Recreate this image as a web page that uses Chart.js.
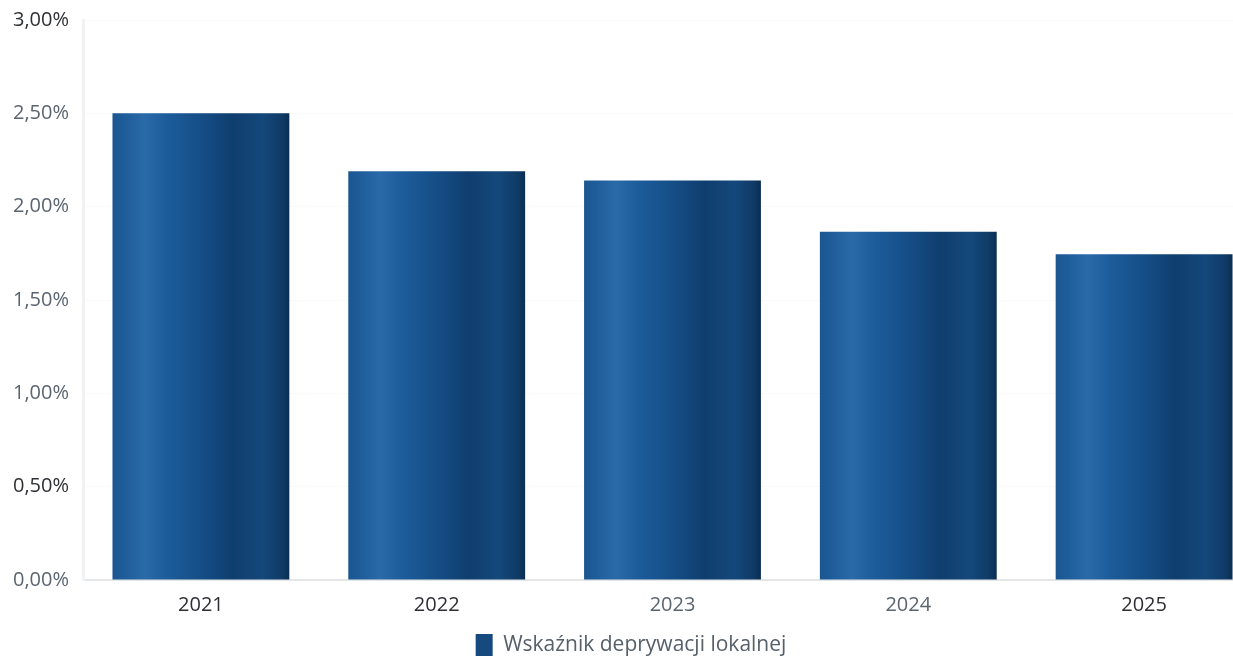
<!DOCTYPE html>
<html>
<head>
<meta charset="utf-8">
<script src="https://cdn.jsdelivr.net/npm/chart.js@4/dist/chart.umd.min.js"></script>
<style>
  html, body { margin: 0; padding: 0; background: #ffffff; overflow: hidden; }
  #wrap { width: 1233px; height: 666px; overflow: hidden; position: relative; }
  #box { width: 1272px; height: 666px; position: absolute; left: 0; top: 0; }
</style>
</head>
<body>
<div id="wrap"><div id="box"><canvas id="c"></canvas></div></div>
<script>
const categories = ["2021", "2022", "2023", "2024", "2025"];
const seriesName = "Wskaźnik deprywacji lokalnej";
const seriesValues = [2.50, 2.19, 2.14, 1.865, 1.745];
const yTickValues = [0, 0.5, 1.0, 1.5, 2.0, 2.5, 3.0];

const BAR_FRACTION = 0.75;

function barGradient(context) {
  const chart = context.chart;
  const xs = chart.scales.x;
  const c = chart.ctx;
  if (!xs || context.dataIndex === undefined) return '#174a80';
  const cx = xs.getPixelForValue(context.dataIndex);
  const w = (xs.width / categories.length) * BAR_FRACTION;
  const g = c.createLinearGradient(cx - w / 2, 0, cx + w / 2, 0);
  g.addColorStop(0.00, '#1b5690');
  g.addColorStop(0.06, '#1e5c99');
  g.addColorStop(0.18, '#2a6aa8');
  g.addColorStop(0.32, '#1c5b99');
  g.addColorStop(0.50, '#154e87');
  g.addColorStop(0.68, '#0f3e6e');
  g.addColorStop(0.85, '#14487b');
  g.addColorStop(0.96, '#0f3a66');
  g.addColorStop(1.00, '#0b2e52');
  return g;
}

const fmt = v => v.toFixed(2).replace('.', ',') + '%';

new Chart(document.getElementById('c'), {
  type: 'bar',
  data: {
    labels: categories,
    datasets: [{
      label: seriesName,
      data: seriesValues,
      backgroundColor: barGradient,
      borderWidth: 0,
      barPercentage: 1.0,
      categoryPercentage: BAR_FRACTION
    }]
  },
  options: {
    responsive: true,
    maintainAspectRatio: false,
    animation: false,
    layout: { padding: { top: 20, right: 10, bottom: 0, left: 0 } },
    plugins: {
      tooltip: { enabled: false },
      legend: {
        position: 'bottom',
        labels: {
          font: { family: 'Open Sans', size: 21 },
          color: '#56606b',
          boxWidth: 17,
          boxHeight: 22,
          padding: 4,
          generateLabels: (chart) => [{
            text: seriesName,
            fillStyle: '#164a7e',
            strokeStyle: '#164a7e',
            lineWidth: 0,
            fontColor: '#56606b',
            datasetIndex: 0,
            hidden: false
          }]
        }
      }
    },
    scales: {
      x: {
        grid: { display: false, drawTicks: false },
        border: { display: true, color: '#e4e6e8', width: 2 },
        ticks: {
          font: { family: 'Open Sans', size: 20 },
          color: (ctx) => (ctx.index === 2 || ctx.index === 3) ? '#5b6570' : '#2e3034',
          padding: 13
        }
      },
      y: {
        min: 0,
        max: 3,
        afterFit: (axis) => { axis.width = 83; axis.paddingTop = 0; },
        afterBuildTicks: (axis) => { axis.ticks = yTickValues.map(v => ({ value: v })); },
        grid: { color: 'rgba(0,0,0,0.025)', drawTicks: false },
        border: { display: true, color: '#f1f2f3', width: 3 },
        ticks: {
          font: { family: 'Open Sans', size: 20 },
          color: (ctx) => (ctx.tick && (ctx.tick.value === 3 || ctx.tick.value === 0.5)) ? '#2e3034' : '#5b6570',
          padding: 14,
          callback: (v) => fmt(v)
        }
      }
    }
  }
});
</script>
</body>
</html>
